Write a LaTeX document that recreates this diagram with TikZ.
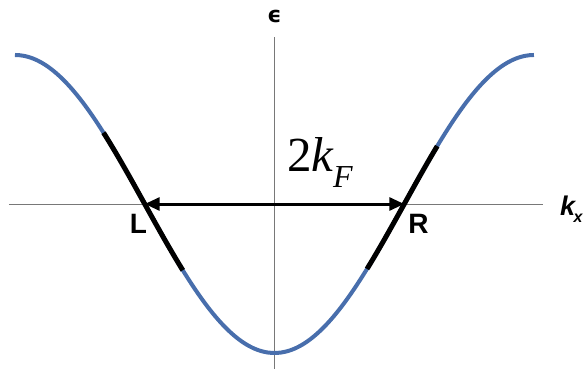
\documentclass[tikz,border=0pt]{standalone}
\usepackage{fontspec}
\usepackage{amsmath}
\newfontfamily\labelfont{Liberation Sans}
\newfontfamily\gapfont{Liberation Serif}
\newfontfamily\greekfont{DejaVu Sans}
\usetikzlibrary{arrows.meta,positioning}
\definecolor{bandcolor}{RGB}{72,110,172}
\definecolor{axiscolor}{RGB}{120,120,120}

\begin{document}
\begin{tikzpicture}[x=82.6pt,y=149pt,
  axis/.style={axiscolor, line width=1pt},
  band/.style={bandcolor, line width=4pt, domain=-pi:pi, samples=120, smooth},
  linear/.style={black, line width=5pt, samples=40, smooth},
  pointlabel/.style={inner sep=0pt, anchor=base, font=\labelfont\fontsize{28}{30}\selectfont\bfseries}
]
\useasboundingbox (-3.323,-1.107) rectangle (3.771,1.369);

% ---- Axes ----
\coordinate (xstart) at (-3.214,0);
\coordinate (xend) at (3.251,0);
\coordinate (ystart) at (0,-1.107);
\coordinate (yend) at (0,1.121);
\draw[axis] (xstart) -- (xend);
\draw[axis] (ystart) -- (yend);

% ---- Band (cosine) ----
\draw[band] plot (\x,{-cos(\x r)});

% ---- Linearised parts near the Fermi points ----
\draw[linear, domain=-2.07:-1.11] plot (\x,{-cos(\x r)});
\draw[linear, domain=1.12:1.97] plot (\x,{-cos(\x r)});

% ---- Fermi points and 2k_F arrow ----
\coordinate (kL) at ({-pi/2},0);
\coordinate (kR) at ({pi/2},0);
\draw[{Triangle[length=15pt,width=13pt]}-{Triangle[length=15pt,width=13pt]}, line width=3pt] (kL) -- (kR);

% ---- Labels ----
\node[inner sep=0pt, anchor=base] (eps) at (0,1.221) {\greekfont\fontsize{22}{24}\selectfont\bfseries\symbol{"03F5}};
\node[inner sep=0pt, anchor=base west] (kx) at (3.455,-0.074) {\labelfont\fontsize{27}{30}\selectfont\bfseries\itshape k\kern-1.5pt\raisebox{-7pt}{\fontsize{16}{18}\selectfont x}};
\node[pointlabel] (L) at (-1.646,-0.195) {L};
\node[pointlabel] (R) at (1.743,-0.195) {R};
\node[inner sep=0pt, anchor=base west] (gap) at (0.151,0.215) {\gapfont\fontsize{49}{52}\selectfont 2\textit{k}\kern-1pt\raisebox{-16pt}{\fontsize{32}{34}\selectfont\textit{F}}};

\end{tikzpicture}
\end{document}
